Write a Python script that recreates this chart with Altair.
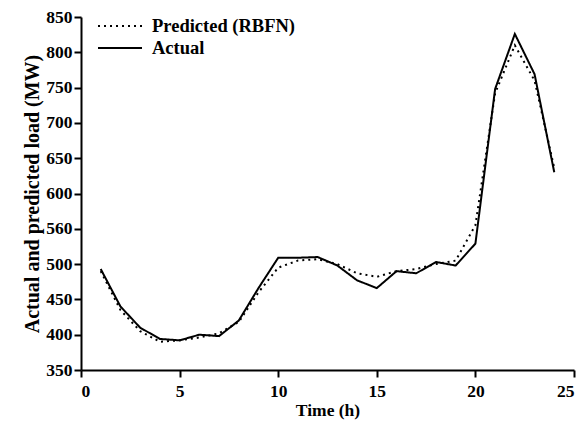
import altair as alt
import pandas as pd

hours = list(range(1, 25))
actual = [493, 440, 410, 394, 392, 400, 398, 420, 466, 509, 509, 510,
          498, 477, 466, 490, 487, 503, 498, 529, 748, 826, 769, 630]
predicted = [490, 435, 405, 390, 392, 396, 402, 418, 460, 495, 505, 507,
             500, 487, 482, 490, 493, 500, 505, 555, 742, 810, 760, 636]
series_names = ["Predicted (RBFN)", "Actual"]

rows = []
for h, p in zip(hours, predicted):
    rows.append({"hour": h, "load": p, "series": series_names[0]})
for h, a in zip(hours, actual):
    rows.append({"hour": h, "load": a, "series": series_names[1]})
df = pd.DataFrame(rows)

font = "Liberation Serif"

chart = alt.Chart(df).mark_line(color="black", strokeWidth=2).encode(
    x=alt.X("hour:Q", title="Time (h)",
            scale=alt.Scale(domain=[0, 25], nice=False),
            axis=alt.Axis(values=[0, 5, 10, 15, 20, 25], grid=False,
                          labelPadding=5, titlePadding=2, titleFontSize=17.5)),
    y=alt.Y("load:Q", title="Actual and predicted load (MW)",
            scale=alt.Scale(domain=[350, 850], nice=False, zero=False),
            axis=alt.Axis(values=list(range(350, 851, 50)), grid=False,
                          labelPadding=2, titlePadding=3, titleFontSize=20,
                          labelExpr="datum.value == 550 ? '560' : datum.label")),
    strokeDash=alt.StrokeDash("series:N",
                              scale=alt.Scale(domain=series_names, range=[[2, 4], [1, 0]]),
                              legend=alt.Legend(title=None, orient="none", legendX=27, legendY=-3,
                                                symbolType="M-2,0H2", symbolSize=484,
                                                symbolStrokeWidth=2, symbolStrokeColor="black",
                                                labelFont=font, labelFontSize=18.5,
                                                labelFontWeight="bold", labelColor="black",
                                                rowPadding=-2, labelOffset=20, padding=0)),
    order=alt.Order("hour:Q"),
).properties(
    width=493, height=353,
    autosize=alt.AutoSizeParams(type="none"),
    padding={"left": 73, "top": 9, "right": 4, "bottom": 52},
).configure_view(stroke=None).configure_axis(
    domainColor="black", domainWidth=2, tickColor="black", tickWidth=2, tickSize=7,
    labelFont=font, labelFontSize=17.5, labelFontWeight="bold", labelColor="black",
    titleFont=font, titleFontWeight="bold", titleColor="black",
)

chart.save("out.html", embed_options={"renderer": "svg", "actions": False})
